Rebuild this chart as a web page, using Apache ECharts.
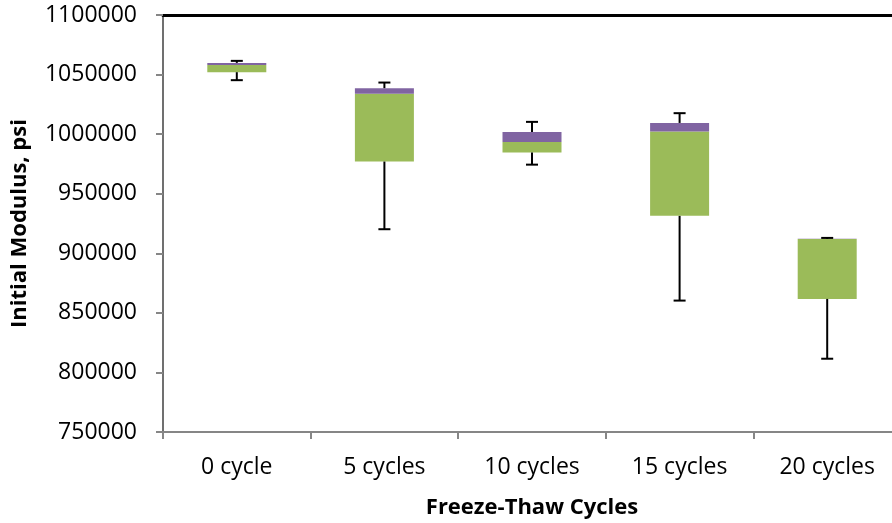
<!DOCTYPE html>
<html>
<head>
<meta charset="utf-8">
<title>Initial Modulus vs Freeze-Thaw Cycles</title>
<script src="https://cdn.jsdelivr.net/npm/echarts@6/dist/echarts.min.js"></script>
<style>
    html, body { margin: 0; padding: 0; background: #fff; }
    #chart { width: 892px; height: 523px; }
</style>
</head>
<body>
<div id="chart"></div>
<script>
var categories = ['0 cycle', '5 cycles', '10 cycles', '15 cycles', '20 cycles'];
// box plot values (psi)
var minVals = [1045300, 920200, 974400, 860300, 811500];
var q1Vals = [1052000, 977000, 984500, 931400, 861700];
var medVals = [1058100, 1033800, 993500, 1002200, 911900];
var q3Vals = [1059800, 1038600, 1001900, 1009400, 912100];
var maxVals = [1061500, 1043300, 1010300, 1017600, 912900];

var fontFamily = '"Open Sans", "Liberation Sans", sans-serif';

var lowerPart = [], greenPart = [], purplePart = [], whiskers = [];
for (var i = 0; i < categories.length; i++) {
    lowerPart.push(q1Vals[i]);
    greenPart.push(medVals[i] - q1Vals[i]);
    purplePart.push(q3Vals[i] - medVals[i]);
    whiskers.push([i, minVals[i], q1Vals[i], q3Vals[i], maxVals[i]]);
}

function renderWhisker(params, api) {
    var x = api.value(0);
    var pMin = api.coord([x, api.value(1)]);
    var pQ1 = api.coord([x, api.value(2)]);
    var pQ3 = api.coord([x, api.value(3)]);
    var pMax = api.coord([x, api.value(4)]);
    var half = 6;
    var style = {stroke: '#000', lineWidth: 2};
    return {
        type: 'group',
        children: [
            {type: 'line', shape: {x1: pQ1[0], y1: pQ1[1], x2: pMin[0], y2: pMin[1]}, style: style},
            {type: 'line', shape: {x1: pMin[0] - half, y1: pMin[1], x2: pMin[0] + half, y2: pMin[1]}, style: style},
            {type: 'line', shape: {x1: pQ3[0], y1: pQ3[1], x2: pMax[0], y2: pMax[1]}, style: style},
            {type: 'line', shape: {x1: pMax[0] - half, y1: pMax[1], x2: pMax[0] + half, y2: pMax[1]}, style: style}
        ]
    };
}

var option = {
    animation: false,
    backgroundColor: '#fff',
    grid: {
        left: 163,
        top: 15,
        width: 738,
        height: 417,
        containLabel: false,
        outerBoundsMode: 'none'
    },
    xAxis: [
        {
            type: 'category',
            data: categories,
            boundaryGap: true,
            axisLine: {lineStyle: {color: '#868686', width: 2}},
            axisTick: {show: true, length: 7, inside: false, alignWithLabel: false, lineStyle: {color: '#868686', width: 2}},
            axisLabel: {color: '#000', fontSize: 23, fontFamily: fontFamily, margin: 24},
            name: 'Freeze-Thaw Cycles',
            nameLocation: 'middle',
            nameGap: 65,
            nameTextStyle: {color: '#000', fontSize: 22, fontWeight: 'bold', fontFamily: fontFamily}
        },
        {
            type: 'category',
            position: 'top',
            data: categories,
            axisLine: {lineStyle: {color: '#000', width: 3}},
            axisTick: {show: false},
            axisLabel: {show: false}
        }
    ],
    yAxis: {
        type: 'value',
        min: 750000,
        max: 1100000,
        interval: 50000,
        splitLine: {show: false},
        axisLine: {show: true, lineStyle: {color: '#707070', width: 2}},
        axisTick: {show: true, length: 7, lineStyle: {color: '#868686', width: 2}},
        axisLabel: {
            color: '#000',
            fontSize: 23,
            fontFamily: fontFamily,
            margin: 26,
            formatter: function (v) {
                return String(v);
            }
        },
        name: 'Initial Modulus, psi',
        nameLocation: 'middle',
        nameGap: 132,
        nameRotate: 90,
        nameTextStyle: {color: '#000', fontSize: 22, fontWeight: 'bold', fontFamily: fontFamily}
    },
    series: [
        {
            name: 'base',
            type: 'bar',
            stack: 'box',
            barWidth: 59,
            itemStyle: {color: 'rgba(0,0,0,0)'},
            data: lowerPart
        },
        {
            name: 'Q1-Median',
            type: 'bar',
            stack: 'box',
            barWidth: 59,
            itemStyle: {color: '#9BBB59'},
            data: greenPart
        },
        {
            name: 'Median-Q3',
            type: 'bar',
            stack: 'box',
            barWidth: 59,
            itemStyle: {color: '#8064A2'},
            data: purplePart
        },
        {
            name: 'whisker',
            type: 'custom',
            renderItem: renderWhisker,
            encode: {x: 0, y: [1, 2, 3, 4]},
            z: 3,
            data: whiskers
        }
    ]
};

var chart = echarts.init(document.getElementById('chart'));
chart.setOption(option);
</script>
</body>
</html>
